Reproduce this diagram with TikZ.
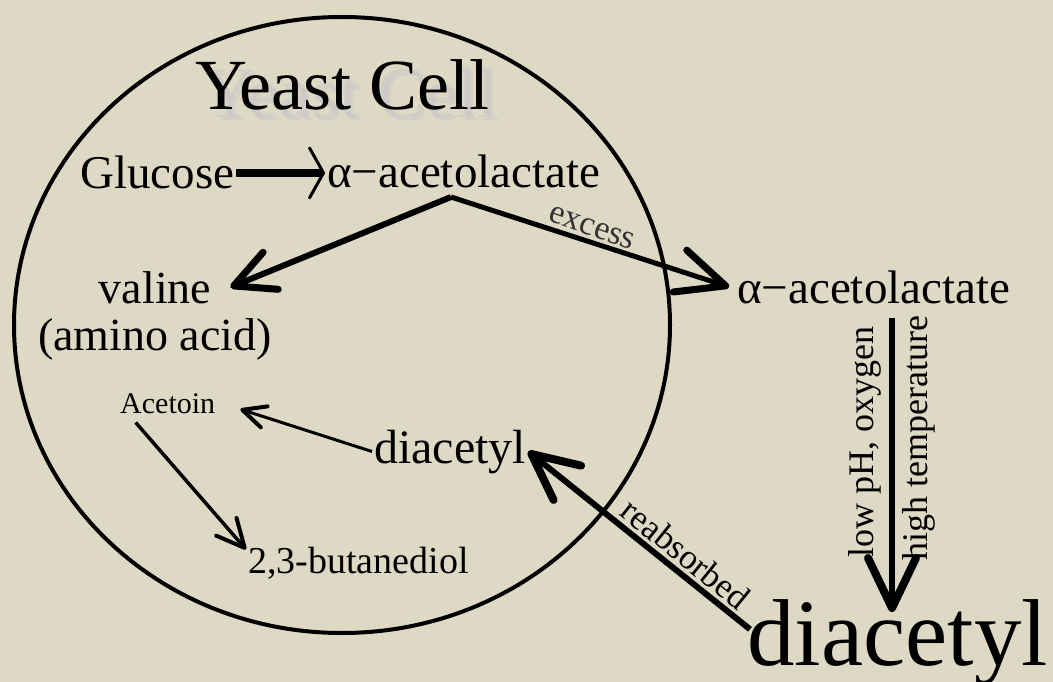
\documentclass[tikz,border=0pt]{standalone}
\usepackage{fontspec}
\setmainfont{Liberation Serif}
\usetikzlibrary{arrows.meta}
\definecolor{bg}{RGB}{221,217,196}
\definecolor{shadowgray}{RGB}{200,200,200}
\tikzset{
  fs/.style={font=\fontsize{#1}{#1}\selectfont},
  lbl/.style={inner sep=2pt, anchor=base west},
  headV/.style n args={4}{-{Straight Barb[length=#1pt,width=#2pt,line width=#3pt,round]}, line width=#4pt},
}
\begin{document}
\begin{tikzpicture}[x=1pt,y=-1pt]
\useasboundingbox (0,0) rectangle (1053,682);
\fill[bg] (0,0) rectangle (1053,682);

% cell
\draw[line width=4pt] (342,325) ellipse [x radius=328, y radius=308];

% title with shadow
\node[lbl, fs=72, text=shadowgray, opacity=0.6] at (201,118) {Yeast Cell};
\node[lbl, fs=72, text=shadowgray, opacity=0.5] at (204,121) {Yeast Cell};
\node[lbl, fs=72] (yeast) at (193,110) {Yeast Cell};

% labels
\node[lbl, fs=47] (glucose) at (78,189) {Glucose};
\node[lbl, fs=47] (acet1) at (325,188) {α−acetolactate};
\node[lbl, fs=47] (acet2) at (735,303) {α−acetolactate};
\node[inner sep=2pt, anchor=base, fs=46] (valine) at (155,303) {valine};
\node[inner sep=2pt, anchor=base, fs=46] (amino) at (155,350) {(amino acid)};
\node[lbl, fs=30] (acetoin) at (118,413) {Acetoin};
\node[lbl, fs=48] (diacetyl1) at (372,463) {diacetyl};
\node[lbl, fs=38] (butanediol) at (246,573) {2,3-butanediol};
\node[inner sep=0pt, anchor=base west, fs=95] (diacetyl2) at (747,665) {diacetyl};

\node[inner sep=0pt, fs=34, text=black!80, rotate=-19] (excess) at (592,228) {excess};
\node[inner sep=0pt, fs=35, rotate=-39] (reabsorbed) at (686,554) {reabsorbed};
\node[inner sep=0pt, anchor=base, fs=36, rotate=90] (lowph) at (873,442) {low pH, oxygen};
\node[inner sep=0pt, anchor=base, fs=36, rotate=90] (hightemp) at (927,438) {high temperature};

% connectors
\coordinate (apex) at (451,197);
\coordinate (vtop) at (892,318);
\coordinate (vbot) at (892,612);

\draw[headV={14}{50}{3}{8}] (glucose.east) -- (glucose.east -| acet1.west);
\draw[headV={40}{40}{7}{6}] (apex) -- ([xshift=17pt]valine.east);
\draw[headV={48}{44}{7}{5}] (apex) -- ([xshift=-6pt]acet2.west);
\draw[headV={50}{48}{8}{6}] (vtop) -- (vbot);
\draw[headV={23}{22}{4}{3}] (diacetyl1.west) -- ([xshift=23pt,yshift=-6pt]acetoin.east);
\draw[headV={28}{27}{4}{3.5}] ([xshift=-32pt,yshift=-7pt]acetoin.south) -- ([yshift=-5pt]butanediol.north west);
\draw[headV={46}{44}{8}{6}] ([xshift=3pt,yshift=13pt]diacetyl2.west) -- (diacetyl1.east);
\end{tikzpicture}
\end{document}
